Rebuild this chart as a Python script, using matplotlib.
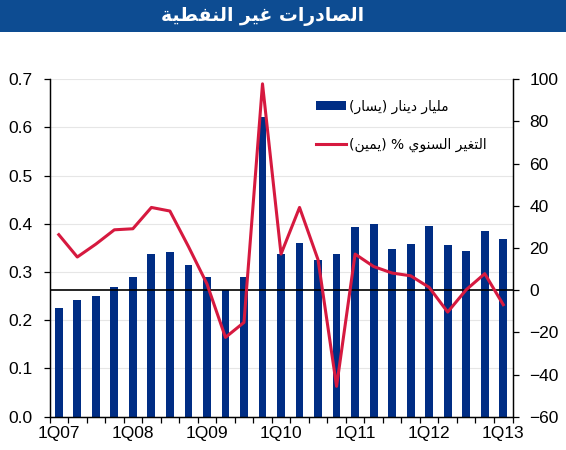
import matplotlib
matplotlib.use("Agg")
import matplotlib.pyplot as plt
from matplotlib.patches import Rectangle

# Data
quarters = ["1Q07", "2Q07", "3Q07", "4Q07", "1Q08", "2Q08", "3Q08", "4Q08",
            "1Q09", "2Q09", "3Q09", "4Q09", "1Q10", "2Q10", "3Q10", "4Q10",
            "1Q11", "2Q11", "3Q11", "4Q11", "1Q12", "2Q12", "3Q12", "4Q12",
            "1Q13"]
exports_bn = [0.225, 0.243, 0.250, 0.268, 0.290, 0.337, 0.342, 0.315,
              0.290, 0.262, 0.290, 0.621, 0.337, 0.361, 0.324, 0.337,
              0.394, 0.400, 0.348, 0.359, 0.396, 0.356, 0.344, 0.385,
              0.368]
yoy_change = [26.3, 15.7, 21.8, 28.6, 29.1, 39.2, 37.5, 20.7,
              3.0, -22.4, -15.3, 97.8, 17.1, 39.2, 14.4, -45.6,
              17.1, 11.2, 8.1, 6.8, 1.3, -10.4, 0.2, 7.8,
              -6.9]
label_quarters = ["1Q07", "1Q08", "1Q09", "1Q10", "1Q11", "1Q12", "1Q13"]

title_text = "الصادرات غير النفطية"
bar_label = "مليار دينار (يسار)"
line_label = "التغير السنوي % (يمين)"

# matplotlib has no Arabic shaping: pick presentation forms by hand
# (isolated, final, initial, medial)
FORMS = {
    "ا": ("\uFE8D", "\uFE8E", None, None),
    "د": ("\uFEA9", "\uFEAA", None, None),
    "ر": ("\uFEAD", "\uFEAE", None, None),
    "ة": ("\uFE93", "\uFE94", None, None),
    "و": ("\uFEED", "\uFEEE", None, None),
    "ل": ("\uFEDD", "\uFEDE", "\uFEDF", "\uFEE0"),
    "ص": ("\uFEB9", "\uFEBA", "\uFEBB", "\uFEBC"),
    "ت": ("\uFE95", "\uFE96", "\uFE97", "\uFE98"),
    "غ": ("\uFECD", "\uFECE", "\uFECF", "\uFED0"),
    "ي": ("\uFEF1", "\uFEF2", "\uFEF3", "\uFEF4"),
    "ن": ("\uFEE5", "\uFEE6", "\uFEE7", "\uFEE8"),
    "ف": ("\uFED1", "\uFED2", "\uFED3", "\uFED4"),
    "ط": ("\uFEC1", "\uFEC2", "\uFEC3", "\uFEC4"),
    "م": ("\uFEE1", "\uFEE2", "\uFEE3", "\uFEE4"),
    "س": ("\uFEB1", "\uFEB2", "\uFEB3", "\uFEB4"),
}


def shape(text):
    out = []
    for i, ch in enumerate(text):
        if ch not in FORMS:
            out.append(ch)
            continue
        iso, fin, ini, med = FORMS[ch]
        prev = text[i - 1] if i > 0 else ""
        nxt = text[i + 1] if i + 1 < len(text) else ""
        join_prev = prev in FORMS and FORMS[prev][2] is not None
        join_next = nxt in FORMS and ini is not None
        if join_prev and join_next:
            out.append(med)
        elif join_prev:
            out.append(fin)
        elif join_next:
            out.append(ini)
        else:
            out.append(iso)
    vis = "".join(reversed(out))
    return vis.translate(str.maketrans("()", ")("))


plt.rcParams["font.family"] = ["Liberation Sans", "DejaVu Sans"]

bar_color = "#002D84"
line_color = "#D6193F"

fig = plt.figure(figsize=(5.66, 4.5), dpi=100)

# Title band
fig.patches.append(Rectangle((0, 0.929), 1, 0.071, transform=fig.transFigure,
                             facecolor="#0D4C92", edgecolor="none"))
fig.text(0.464, 0.964, shape(title_text), color="white", fontsize=13.5,
         fontweight="bold", ha="center", va="center", family=["DejaVu Sans"])

ax = fig.add_axes([0.0875, 0.074, 0.818, 0.750])
x = list(range(len(quarters)))
ax.bar(x, exports_bn, width=0.42, color=bar_color, label=shape(bar_label),
       zorder=2)
ax.set_xlim(-0.5, len(quarters) - 0.5)
ax.set_ylim(0, 0.7)
ax.set_yticks([i / 10 for i in range(8)])
ax.yaxis.set_major_formatter(matplotlib.ticker.FormatStrFormatter("%.1f"))
ax.yaxis.grid(True, color="#E6E6E6", linewidth=0.8, zorder=0)
ax.set_axisbelow(True)

# ticks at category boundaries, labels under every 4th quarter
ax.set_xticks([i - 0.5 for i in range(len(quarters) + 1)])
ax.set_xticklabels([])
ax.set_xticks([quarters.index(q) for q in label_quarters], minor=True)
ax.set_xticklabels(label_quarters, minor=True)
ax.tick_params(axis="x", which="major", direction="out", length=4, width=0.9)
ax.tick_params(axis="x", which="minor", length=0, pad=7, labelsize=12.5)
ax.tick_params(axis="y", direction="out", length=4, width=0.9, pad=8,
               labelsize=12.5)

ax2 = ax.twinx()
ax2.axhline(0, color="black", linewidth=1.2, zorder=2)
ax2.plot(x, yoy_change, color=line_color, linewidth=2.2,
         label=shape(line_label), zorder=3)
ax2.set_ylim(-60, 100)
ax2.set_yticks(range(-60, 101, 20))
ax2.tick_params(axis="y", direction="out", length=4, width=0.9, pad=8,
                labelsize=12.5)

for a in (ax, ax2):
    a.spines["top"].set_visible(False)
    for s in ("left", "right", "bottom"):
        a.spines[s].set_linewidth(0.9)

h1, l1 = ax.get_legend_handles_labels()
h2, l2 = ax2.get_legend_handles_labels()
ax2.legend(h1 + h2, l1 + l2, loc="upper left", bbox_to_anchor=(0.575, 0.94),
           frameon=False, handlelength=2.2, handletextpad=0.2,
           labelspacing=1.75, borderaxespad=0, borderpad=0,
           prop={"family": ["DejaVu Sans"], "size": 10})

plt.savefig("out.png", dpi=100)
